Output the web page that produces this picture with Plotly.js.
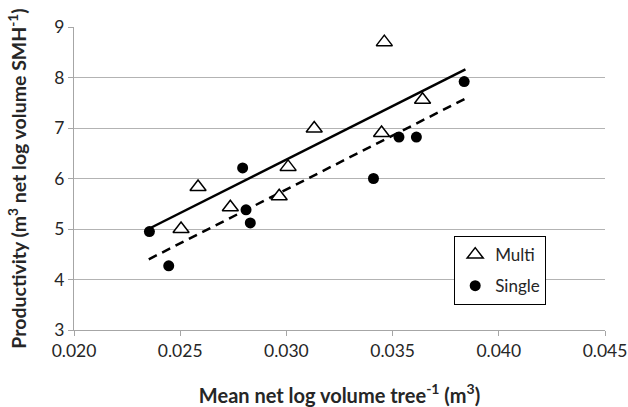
<!DOCTYPE html>
<html><head><meta charset="utf-8">
<script src="https://cdn.plot.ly/plotly-3.0.1.min.js"></script>
<style>html,body{margin:0;padding:0;background:#fff}#chart{width:628px;height:407px}</style>
</head><body><div id="chart"></div>
<script>
const multiX = [0.02504, 0.02584, 0.02736, 0.02966, 0.03008, 0.03131, 0.03461, 0.03448, 0.03641];
const multiY = [5.00, 5.83, 5.43, 5.65, 6.23, 6.99, 8.70, 6.90, 7.56];
const singleX = [0.02355, 0.02446, 0.02794, 0.02810, 0.02830, 0.03410, 0.03530, 0.03612, 0.03837];
const singleY = [4.95, 4.27, 6.21, 5.38, 5.12, 6.00, 6.82, 6.82, 7.92];
const multiTrendX = [0.02355, 0.03843];
const multiTrendY = [5.01, 8.16];
const singleTrendX = [0.02352, 0.03842];
const singleTrendY = [4.40, 7.58];
const xTicks = [0.020, 0.025, 0.030, 0.035, 0.040, 0.045];
const xTickText = ["0.020", "0.025", "0.030", "0.035", "0.040", "0.045"];

const data = [
  {x: multiTrendX, y: multiTrendY, mode: 'lines', line: {color: '#000', width: 2.5}, showlegend: false, hoverinfo: 'skip'},
  {x: singleTrendX, y: singleTrendY, mode: 'lines', line: {color: '#000', width: 2.5, dash: '9px,6px'}, showlegend: false, hoverinfo: 'skip'},
  {x: multiX, y: multiY, mode: 'markers', name: 'Multi', legendgroup: 'a', marker: {symbol: 'triangle-up', size: 14, color: '#fff', line: {color: '#000', width: 1.5}}},
  {x: singleX, y: singleY, mode: 'markers', name: 'Single', legendgroup: 'b', marker: {symbol: 'circle', size: 11, color: '#000'}}
];
const layout = {
  width: 628, height: 407,
  margin: {l: 73.5, r: 23.3, t: 26.5, b: 77},
  paper_bgcolor: '#fff', plot_bgcolor: '#fff',
  font: {family: 'Lato, sans-serif', size: 17, color: '#262626'},
  xaxis: {
    range: [0.020, 0.045], tickvals: xTicks, ticktext: xTickText,
    showgrid: false, zeroline: false, showline: true, linecolor: '#a6a6a6', linewidth: 1,
    ticks: 'outside', ticklen: 5, tickcolor: '#a6a6a6',
    tickfont: {size: 17.5, color: '#262626'},
    title: {text: '<b>Mean net log volume tree<sup>-1</sup> (m<sup>3</sup>)</b>', font: {size: 20, color: '#262626'}, standoff: 28}
  },
  yaxis: {
    range: [3, 9], dtick: 1, tick0: 3,
    showgrid: true, gridcolor: '#b3b3b3', gridwidth: 1, zeroline: false,
    showline: true, linecolor: '#a6a6a6', linewidth: 1,
    ticks: 'outside', ticklen: 5, tickcolor: '#a6a6a6',
    tickfont: {size: 17.5, color: '#262626'},
    title: {text: '<b>Productivity (m<sup>3</sup> net log volume SMH<sup>-1</sup>)</b>', font: {size: 19.5, color: '#262626'}, standoff: 22}
  },
  legend: {
    x: 0.716, y: 0.31, xanchor: 'left', yanchor: 'top',
    bgcolor: '#fff', bordercolor: '#000', borderwidth: 1,
    font: {size: 17, color: '#262626'}, itemwidth: 30,
    traceorder: 'grouped', tracegroupgap: 6
  },
  showlegend: true
};
Plotly.newPlot('chart', data, layout, {displayModeBar: false, staticPlot: true});
</script></body></html>
